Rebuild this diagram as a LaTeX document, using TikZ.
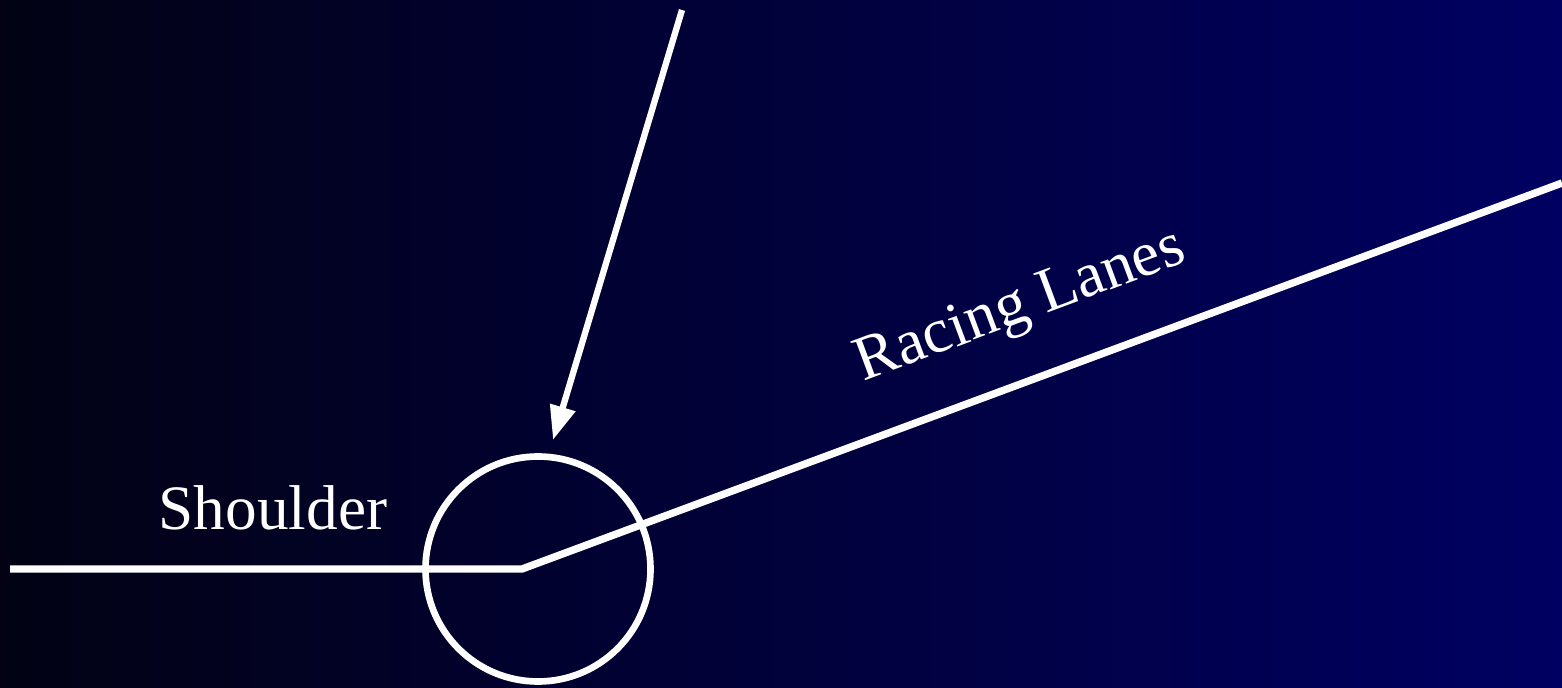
\documentclass[tikz,border=0pt]{standalone}
\usepackage{fontspec}
\setmainfont{Liberation Serif}
\usepackage{tikz}
\usetikzlibrary{positioning,arrows.meta}
\definecolor{bgleft}{RGB}{2,2,20}
\definecolor{bgright}{RGB}{0,0,98}

\begin{document}
\begin{tikzpicture}[
		lane/.style={white,line width=2.1pt},
		lbl/.style={white,font=\fontsize{18}{20}\selectfont,inner sep=0pt}
	]
			
			\shade[left color=bgleft,right color=bgright] (0,0) rectangle (15.62,6.87);
			\useasboundingbox (0,0) rectangle (15.62,6.87);
			
			\coordinate (shoulderstart) at (0.10,1.18);
			\coordinate (corner) at (5.22,1.18);
			\coordinate (laneend) at (15.62,5.04);
			\coordinate (arrowstart) at (6.82,6.77);
			\coordinate (arrowtip) at (5.53,2.47);
			
			\draw[lane] (shoulderstart)--(corner)--(laneend);
			\node[draw=white,line width=1.9pt,circle,minimum size=2.25cm,inner sep=0pt] (apex) at (5.38,1.18) {};
			
			\draw[white,line width=1.8pt,-{Triangle[length=0.34cm,width=0.25cm]}] (arrowstart)--(arrowtip);
			
			\node[lbl,anchor=base] (shoulder) at (2.73,1.57) {Shoulder};
			\node[lbl,anchor=base,rotate=20.4] (racing) at (10.26,3.66) {Racing Lanes};
			
		\end{tikzpicture}
\end{document}
